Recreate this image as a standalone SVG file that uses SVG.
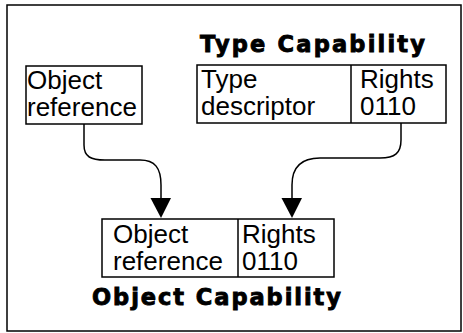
<svg xmlns="http://www.w3.org/2000/svg" width="463" height="333" viewBox="0 0 463 333">
<defs>
<style>
.box{fill:#fff;stroke:#000;stroke-width:1.5}
.t{font-family:"Liberation Sans",Arial,sans-serif;font-size:26px;fill:#000}
.h{font-family:"DejaVu Sans",sans-serif;font-weight:bold;font-size:22.5px;fill:#000;stroke:#000;stroke-width:0.9}
.c{fill:none;stroke:#000;stroke-width:1.5}
</style>
</defs>
<rect x="0" y="0" width="463" height="333" fill="#fff"/>
<rect x="7" y="5" width="454" height="326" fill="none" stroke="#000" stroke-width="1.5"/>
<g id="objref">
<rect class="box" x="26" y="66" width="116" height="58"/>
<text class="t" x="27" y="89">Object</text>
<text class="t" x="27" y="116">reference</text>
</g>
<g id="typecap">
<text class="h" x="200" y="52" textLength="225" lengthAdjust="spacing">Type Capability</text>
<rect class="box" x="197" y="65" width="249" height="58"/>
<line x1="351" y1="65" x2="351" y2="123" stroke="#000" stroke-width="1.5"/>
<text class="t" x="201" y="88">Type</text>
<text class="t" x="201" y="115">descriptor</text>
<text class="t" x="360" y="88">Rights</text>
<text class="t" x="360" y="115">0110</text>
</g>
<g id="objcap">
<rect class="box" x="102" y="219" width="232" height="58"/>
<line x1="238" y1="219" x2="238" y2="277" stroke="#000" stroke-width="1.5"/>
<text class="t" x="113" y="243">Object</text>
<text class="t" x="113" y="270">reference</text>
<text class="t" x="242" y="243">Rights</text>
<text class="t" x="242" y="270">0110</text>
<text class="h" x="92" y="305" textLength="249" lengthAdjust="spacing">Object Capability</text>
</g>
<g id="connectors">
<path class="c" d="M84,124 L84,145 C84,157 91,160 105,160 L140,160 C155,160 161,168 161,185 L161,199" />
<path d="M150.5,198 L171,198 L161,218 Z" fill="#000"/>
<path class="c" d="M401,123 L401,140 C401,153 395,158 380,158 L320,158 C301,158 292,168 292,185 L292,199" />
<path d="M281.5,198 L302,198 L292,218 Z" fill="#000"/>
</g>
</svg>
